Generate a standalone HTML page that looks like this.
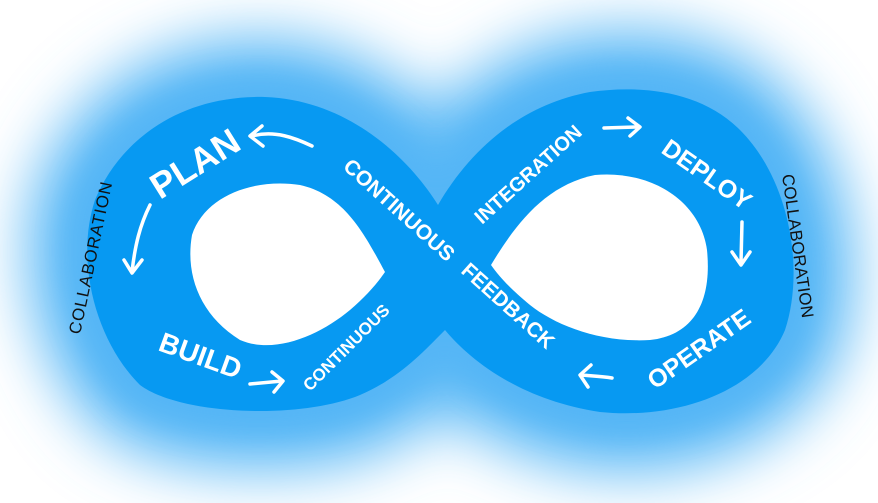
<!DOCTYPE html>
<html><head><meta charset="utf-8"><style>
html,body{margin:0;padding:0;background:#fff;}
svg{display:block}
text{font-family:"Liberation Sans",sans-serif;}
.w{fill:#fff;font-weight:bold;}
.a{fill:none;stroke:#fff;stroke-width:3.5;stroke-linecap:round;stroke-linejoin:round}
</style></head><body>
<svg width="878" height="503" viewBox="0 0 878 503" xmlns="http://www.w3.org/2000/svg">
<defs>
<filter id="g" x="-40%" y="-60%" width="180%" height="220%"><feGaussianBlur stdDeviation="30"/></filter>
<filter id="g2" x="-30%" y="-40%" width="160%" height="180%"><feGaussianBlur stdDeviation="14"/></filter>
</defs>
<path d="M438,205 C410,160 350,100 265,97 C180,95 120,140 95,200 C75,260 95,340 140,385 C180,415 300,420 360,395 C400,378 425,350 445,330 C470,360 520,400 600,412 C680,420 760,390 785,330 C805,270 790,180 740,130 C700,90 640,85 590,92 C520,105 470,150 438,205 Z" fill="#5cb9f6" stroke="#5cb9f6" stroke-width="120" stroke-linejoin="round" filter="url(#g)"/>
<path d="M438,205 C410,160 350,100 265,97 C180,95 120,140 95,200 C75,260 95,340 140,385 C180,415 300,420 360,395 C400,378 425,350 445,330 C470,360 520,400 600,412 C680,420 760,390 785,330 C805,270 790,180 740,130 C700,90 640,85 590,92 C520,105 470,150 438,205 Z" fill="#55b6f6" stroke="#55b6f6" stroke-width="40" filter="url(#g2)"/>
<path d="M438,205 C410,160 350,100 265,97 C180,95 120,140 95,200 C75,260 95,340 140,385 C180,415 300,420 360,395 C400,378 425,350 445,330 C470,360 520,400 600,412 C680,420 760,390 785,330 C805,270 790,180 740,130 C700,90 640,85 590,92 C520,105 470,150 438,205 Z" fill="#0799f2"/>
<path d="M385,272 C365,235 345,195 300,185 C255,178 205,195 192,235 C185,275 200,315 240,340 C275,355 320,335 350,310 C365,297 376,285 385,272 Z" fill="#fff"/>
<path d="M491,265 C515,225 545,185 595,175 C650,170 700,200 707,250 C712,300 695,335 650,340 C600,343 555,325 530,305 C512,290 500,278 491,265 Z" fill="#fff"/>

<text class="w" font-size="36" transform="translate(160,200) rotate(-32)">PLAN</text>
<text class="w" font-size="21" transform="translate(342,168) rotate(42)">CONTINUOUS</text>
<text class="w" font-size="21" transform="translate(460,272) rotate(42)">FEEDBACK</text>
<text class="w" font-size="20" transform="translate(482,225) rotate(-42)">INTEGRATION</text>
<text class="w" font-size="25" transform="translate(660,152) rotate(35)">DEPLOY</text>
<text class="w" font-size="25" transform="translate(655,390) rotate(-35)">OPERATE</text>
<text class="w" font-size="28" transform="translate(157,350) rotate(20)">BUILD</text>
<text class="w" font-size="17" transform="translate(310,392) rotate(-45)">CONTINUOUS</text>
<text font-size="17" fill="#111" textLength="155" transform="translate(80,335) rotate(-78)">COLLABORATION</text>
<text font-size="17" fill="#111" textLength="145" transform="translate(782,175) rotate(82)">COLLABORATION</text>

<path class="a" d="M312,146 C295,138 275,130 252,136 M262,126 L250,136 L263,146"/>
<path class="a" d="M150,205 C140,225 135,245 132,272 M124,260 L132,273 L142,260"/>
<path class="a" d="M250,384 L282,381 M272,372 L283,381 L274,392"/>
<path class="a" d="M604,128 L638,127 M628,118 L640,127 L630,136"/>
<path class="a" d="M742,222 L741,262 M732,252 L741,265 L750,252"/>
<path class="a" d="M612,378 C600,376 590,376 582,375 M591,365 L580,375 L588,387"/>
</svg>
</body></html>
